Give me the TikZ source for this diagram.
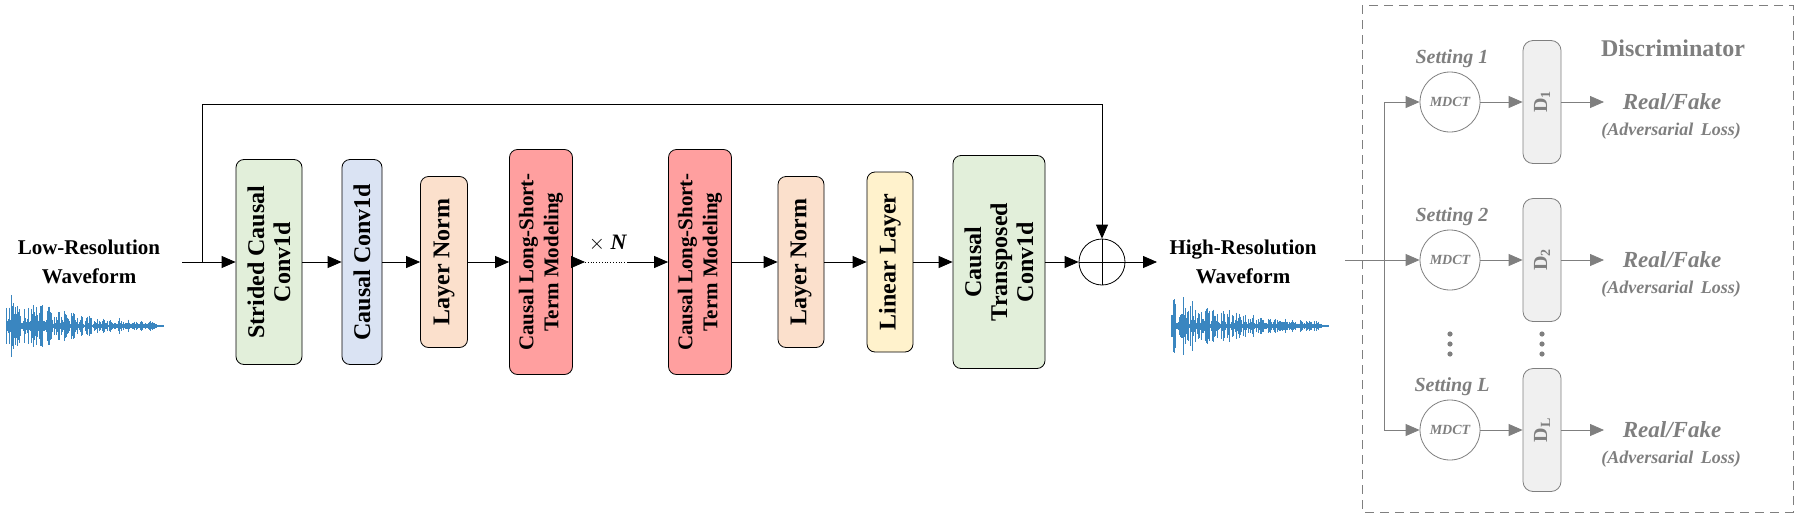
\documentclass[tikz,border=0pt]{standalone}
\usepackage{fontspec}
\setmainfont{Liberation Serif}
\usetikzlibrary{arrows.meta}
\usetikzlibrary{positioning}

\definecolor{greenbox}{HTML}{E2EFDA}
\definecolor{bluebox}{HTML}{DAE3F3}
\definecolor{orangebox}{HTML}{FBE0CC}
\definecolor{redbox}{HTML}{FF9F9F}
\definecolor{yellowbox}{HTML}{FFF2CC}
\definecolor{discgray}{HTML}{7F7F7F}
\definecolor{wave}{HTML}{3A86C0}

\tikzset{
  block/.style={draw=black,thick,rounded corners=8pt,rotate=90,align=center,
    font=\fontsize{24}{26}\selectfont\bfseries,inner sep=2pt},
  arr/.style={-{Triangle[length=14pt,width=12pt]},thick},
  garr/.style={-{Triangle[length=14pt,width=12pt]},thick,draw=discgray},
  label/.style={align=center,font=\fontsize{21}{29}\selectfont\bfseries},
  glabel/.style={text=discgray,font=\fontsize{20}{24}\selectfont\bfseries\itshape},
  mdct/.style={circle,draw=discgray,thick,minimum size=60pt,inner sep=0pt,
    text=discgray,font=\fontsize{14}{16}\selectfont\bfseries\itshape},
  dbox/.style={draw=discgray,thick,fill=gray!12,rounded corners=10pt,rotate=90,
    minimum width=123pt,minimum height=38pt,text=discgray,
    font=\fontsize{20}{22}\selectfont\bfseries}
}

\newcommand{\wavesig}[2]{%
  \foreach \i in {0,...,150} {
    \pgfmathsetmacro{\amp}{(2+38*rnd*exp(-\i/60))*(0.5+0.5*abs(sin(\i*23)))}
    \draw[wave,line width=0.9pt] (#1+\i,#2-\amp) -- (#1+\i,#2+\amp);
  }
  \draw[wave,line width=1.5pt] (#1,#2) -- (#1+158,#2);
}

\begin{document}
\begin{tikzpicture}[x=1pt,y=-1pt]
  \useasboundingbox (0,0) rectangle (1800,517);
  \pgfmathsetseed{7}

  % generator
  \node[label] (lowtxt) at (89,262) {Low-Resolution\\Waveform};
  \wavesig{6}{326}
  \coordinate (in) at (182,262);
  \coordinate (sk) at (202,262);
  \coordinate (top) at (1102,104);

  \node[block,fill=greenbox,minimum width=205pt,minimum height=66pt] (strided) at (269,262) {Strided Causal\\Conv1d};
  \node[block,fill=bluebox,minimum width=205pt,minimum height=40pt] (conv) at (362,262) {Causal Conv1d};
  \node[block,fill=orangebox,minimum width=171pt,minimum height=47pt] (norma) at (444,262) {Layer Norm};
  \node[block,fill=redbox,minimum width=225pt,minimum height=63pt,font=\fontsize{21}{25}\selectfont\bfseries] (lstma) at (541,262) {Causal Long-Short-\\Term Modeling};
  \coordinate (dl) at (585,262);
  \coordinate (dr) at (627,262);
  \node[font=\fontsize{22}{24}\selectfont\bfseries] (rep) at (608,243) {$\times$ \textit{N}};
  \node[block,fill=redbox,minimum width=225pt,minimum height=63pt,font=\fontsize{21}{25}\selectfont\bfseries] (lstmb) at (700,262) {Causal Long-Short-\\Term Modeling};
  \node[block,fill=orangebox,minimum width=171pt,minimum height=46pt] (normb) at (801,262) {Layer Norm};
  \node[block,fill=yellowbox,minimum width=180pt,minimum height=46pt] (linear) at (890,262) {Linear Layer};
  \node[block,fill=greenbox,minimum width=213pt,minimum height=92pt] (trans) at (999,262) {Causal\\Transposed\\Conv1d};
  \node[circle,draw=black,thick,minimum size=46pt,inner sep=0pt] (plus) at (1102,262) {};
  \draw[thick] (plus.north) -- (plus.south) (plus.west) -- (plus.east);
  \coordinate (outp) at (1157,262);

  \draw[arr] (in) -- (strided);
  \draw[arr] (strided) -- (conv);
  \draw[arr] (conv) -- (norma);
  \draw[arr] (norma) -- (lstma);
  \draw[arr] (lstma) -- (dl);
  \draw[thick,dotted] (dl) -- (dr);
  \draw[arr] (dr) -- (lstmb);
  \draw[arr] (lstmb) -- (normb);
  \draw[arr] (normb) -- (linear);
  \draw[arr] (linear) -- (trans);
  \draw[arr] (trans) -- (plus);
  \draw[arr] (plus) -- (outp);
  \draw[arr] (sk) |- (top) -- (plus);

  \node[label] (hightxt) at (1243,262) {High-Resolution\\Waveform};
  \wavesig{1171}{326}

  % discriminator
  \draw[discgray,thick,dash pattern=on 9pt off 6pt] (1362,5) rectangle (1793,512);
  \node[text=discgray,font=\fontsize{24}{26}\selectfont\bfseries] (disc) at (1673,48) {Discriminator};
  \coordinate (hin) at (1345,260);
  \coordinate (split) at (1384,260);
  \foreach \k/\y/\s/\d in {1/102/1/1,2/260/2/2,3/430/L/L} {
    \node[mdct] (m\k) at (1450,\y) {MDCT};
    \node[glabel] (s\k) at (1452,\y-43) {Setting \s};
    \node[dbox] (d\k) at (1542,\y) {D\textsubscript{\d}};
    \coordinate (r\k) at (1604,\y);
    \node[glabel,font=\fontsize{23}{26}\selectfont\bfseries\itshape] (rf\k) at (1672,\y) {Real/Fake};
    \node[glabel,font=\fontsize{18}{20}\selectfont\bfseries\itshape] (adv\k) at (1671,\y+29) {(Adversarial\, Loss)};
    \draw[garr] (m\k) -- (d\k);
    \draw[garr] (d\k) -- (r\k);
  }
  \draw[garr] (hin) -- (m2);
  \draw[garr] (split) |- (m1);
  \draw[garr] (split) |- (m3);
  \foreach \x in {1450,1542} {
    \foreach \y in {334,344,354} \fill[discgray] (\x,\y) circle (2.6pt);
  }
\end{tikzpicture}
\end{document}
